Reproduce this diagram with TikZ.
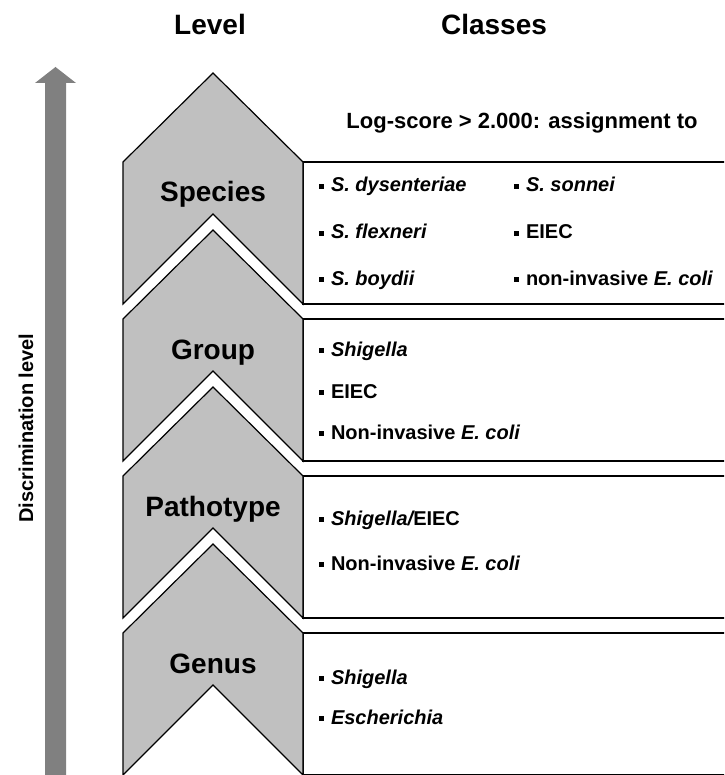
\documentclass[tikz,border=0pt]{standalone}
\usepackage{fontspec}
\setmainfont{Liberation Sans}
\usetikzlibrary{positioning}

\definecolor{chevgray}{RGB}{192,192,192}
\definecolor{arrowgray}{RGB}{128,128,128}
\newcommand{\sqb}{\rule[0.14em]{0.27em}{0.27em}\hspace{0.35em}}

\begin{document}
\begin{tikzpicture}[x=1pt, y=-1pt, line width=1.2pt,
		lvl/.style={font=\fontsize{28}{30}\selectfont\bfseries, anchor=base},
		cls/.style={font=\fontsize{20}{22}\selectfont\bfseries, anchor=base west, inner sep=0pt}]
		\useasboundingbox (0,0) rectangle (724,775);
		\clip (0,0) rectangle (724,775);

		% discrimination arrow
		\fill[arrowgray] (45,780) -- (45,83) -- (35,83) -- (55.5,67) -- (76,83) -- (66,83) -- (66,780) -- cycle;
		\node[rotate=90, font=\fontsize{20}{22}\selectfont\bfseries] (disc) at (26,428) {Discrimination level};

		% headers
		\node[lvl] (level) at (210,35) {Level};
		\node[lvl] (classes) at (494,35) {Classes};
		\node[anchor=base, font=\fontsize{22}{24}\selectfont\bfseries] (logscore) at (522,129) {Log-score > 2.000: assignment to};

		% chevrons with their boxes
		\foreach \t/\l/\n in {73/Species/species, 230/Group/group, 387/Pathotype/pathotype, 544/Genus/genus} {
				\draw (740,\t+89) -- (303,\t+89) -- (303,\t+231) -- (740,\t+231);
				\draw[fill=chevgray] (123,\t+89) -- (213,\t) -- (303,\t+89) -- (303,\t+231) -- (213,\t+141) -- (123,\t+231) -- cycle;
				\node[lvl] (\n) at (213,\t+129) {\l};
			}

		% species
		\node[cls] (sp1) at (318,192) {\sqb{\itshape S. dysenteriae}};
		\node[cls] (sp2) at (318,239) {\sqb{\itshape S. flexneri}};
		\node[cls] (sp3) at (318,285) {\sqb{\itshape S. boydii}};
		\node[cls] (sp4) at (513,192) {\sqb{\itshape S. sonnei}};
		\node[cls] (sp5) at (513,239) {\sqb EIEC};
		\node[cls] (sp6) at (513,285) {\sqb non-invasive {\itshape E. coli}};

		% group
		\node[cls] (gr1) at (318,356) {\sqb{\itshape Shigella}};
		\node[cls] (gr2) at (318,398) {\sqb EIEC};
		\node[cls] (gr3) at (318,439) {\sqb Non-invasive {\itshape E. coli}};

		% pathotype
		\node[cls] (pt1) at (318,525) {\sqb{\itshape Shigella/}EIEC};
		\node[cls] (pt2) at (318,570) {\sqb Non-invasive {\itshape E. coli}};

		% genus
		\node[cls] (ge1) at (318,684) {\sqb{\itshape Shigella}};
		\node[cls] (ge2) at (318,724) {\sqb{\itshape Escherichia}};
	\end{tikzpicture}
\end{document}
